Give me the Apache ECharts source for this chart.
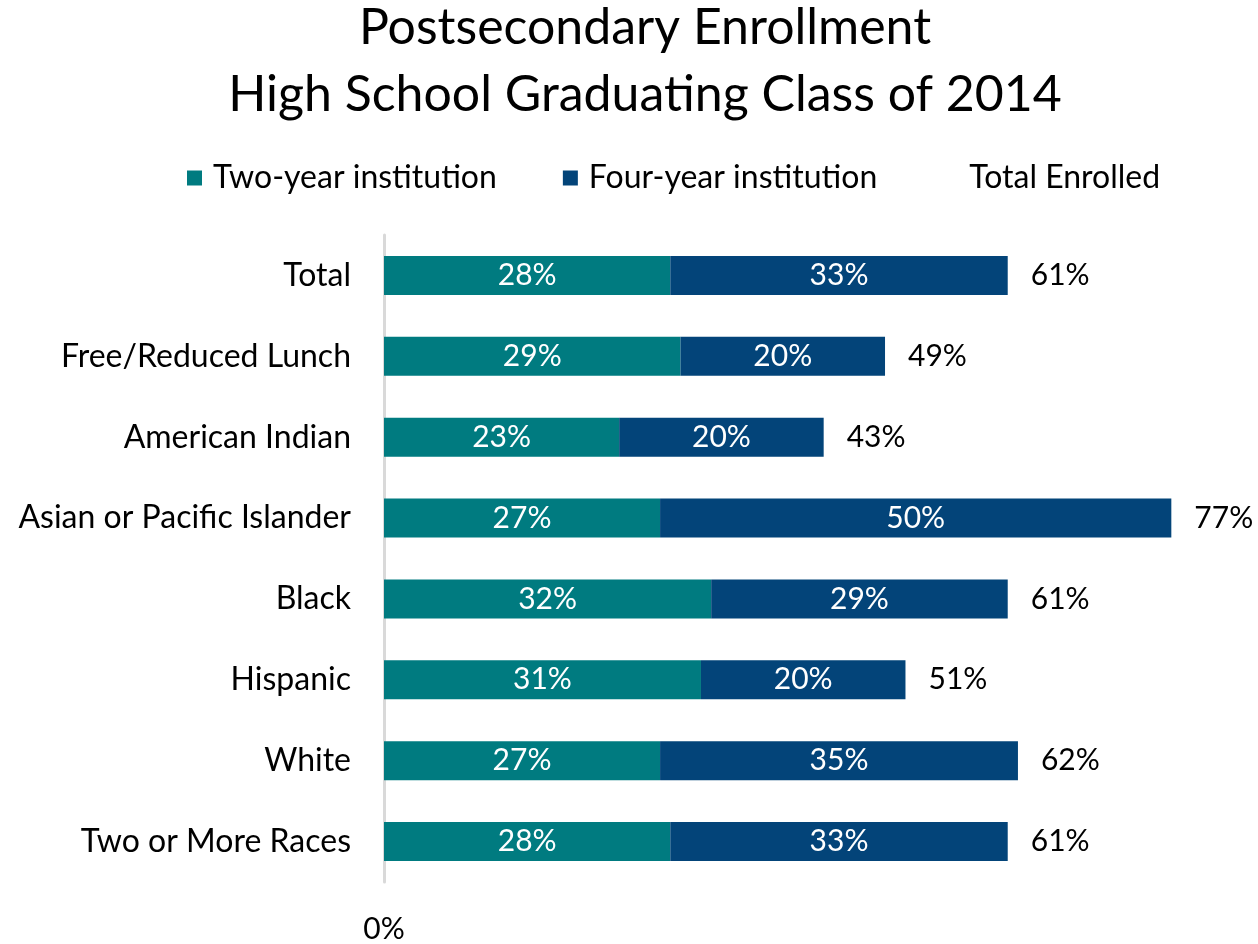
<!DOCTYPE html>
<html>
<head>
<meta charset="utf-8">
<script src="https://cdn.jsdelivr.net/npm/echarts@6/dist/echarts.min.js"></script>
<style>html,body{margin:0;padding:0;background:#fff}#c{width:1258px;height:944px}</style>
</head>
<body>
<div id="c"></div>
<script>
const categories = ["Total","Free/Reduced Lunch","American Indian","Asian or Pacific Islander","Black","Hispanic","White","Two or More Races"];
const twoYear = [28,29,23,27,32,31,27,28];
const fourYear = [33,20,20,50,29,20,35,33];
const totalEnrolled = [61,49,43,77,61,51,62,61];
const seriesNames = ["Two-year institution","Four-year institution","Total Enrolled"];

const FONT = 'Lato';
const chart = echarts.init(document.getElementById('c'));
chart.setOption({
  animation: false,
  textStyle: {fontFamily: FONT},
  title: {
    text: "Postsecondary Enrollment\nHigh School Graduating Class of 2014",
    left: 645, textAlign: 'center', top: -6, padding: 0,
    textStyle: {fontFamily: FONT, fontSize: 50, fontWeight: 'normal', color: '#000', lineHeight: 67}
  },
  legend: {
    top: 162, left: 187, padding: 0,
    itemWidth: 15, itemHeight: 15, itemGap: 66,
    icon: 'rect',
    textStyle: {fontFamily: FONT, fontSize: 32, color: '#000', padding: [0,0,0,6]},
    data: [
      {name: seriesNames[0]},
      {name: seriesNames[1]},
      {name: seriesNames[2], itemStyle: {color: 'rgba(0,0,0,0)'}}
    ]
  },
  grid: {left: 384, right: 56, top: 235, bottom: 57, containLabel: false},
  xAxis: {
    type: 'value', min: 0, max: 80, interval: 80,
    axisLine: {show: false}, axisTick: {show: false}, splitLine: {show: false},
    axisLabel: {fontFamily: FONT, fontSize: 30, color: '#000', margin: 32,
      formatter: v => v === 0 ? '0%' : ''}
  },
  yAxis: {
    type: 'category', data: categories, inverse: true,
    axisLine: {show: true, lineStyle: {color: '#d9d9d9', width: 3}},
    axisTick: {show: false},
    axisLabel: {fontFamily: FONT, fontSize: 32, color: '#000', margin: 33}
  },
  series: [
    {name: seriesNames[0], type: 'bar', stack: 'e', data: twoYear, barWidth: 39,
      itemStyle: {color: '#007B80'},
      label: {show: true, position: 'inside', color: '#fff', fontFamily: FONT, fontSize: 30, formatter: p => p.value + '%'}},
    {name: seriesNames[1], type: 'bar', stack: 'e', data: fourYear, barWidth: 39,
      itemStyle: {color: '#034479'},
      label: {show: true, position: 'inside', color: '#fff', fontFamily: FONT, fontSize: 30, formatter: p => p.value + '%'}},
    {name: seriesNames[2], type: 'bar', data: totalEnrolled, barWidth: 39, barGap: '-100%',
      itemStyle: {color: 'rgba(0,0,0,0)'}, silent: true,
      label: {show: true, position: 'right', distance: 23, color: '#000', fontFamily: FONT, fontSize: 30, formatter: p => p.value + '%'}}
  ]
});
</script>
</body>
</html>
